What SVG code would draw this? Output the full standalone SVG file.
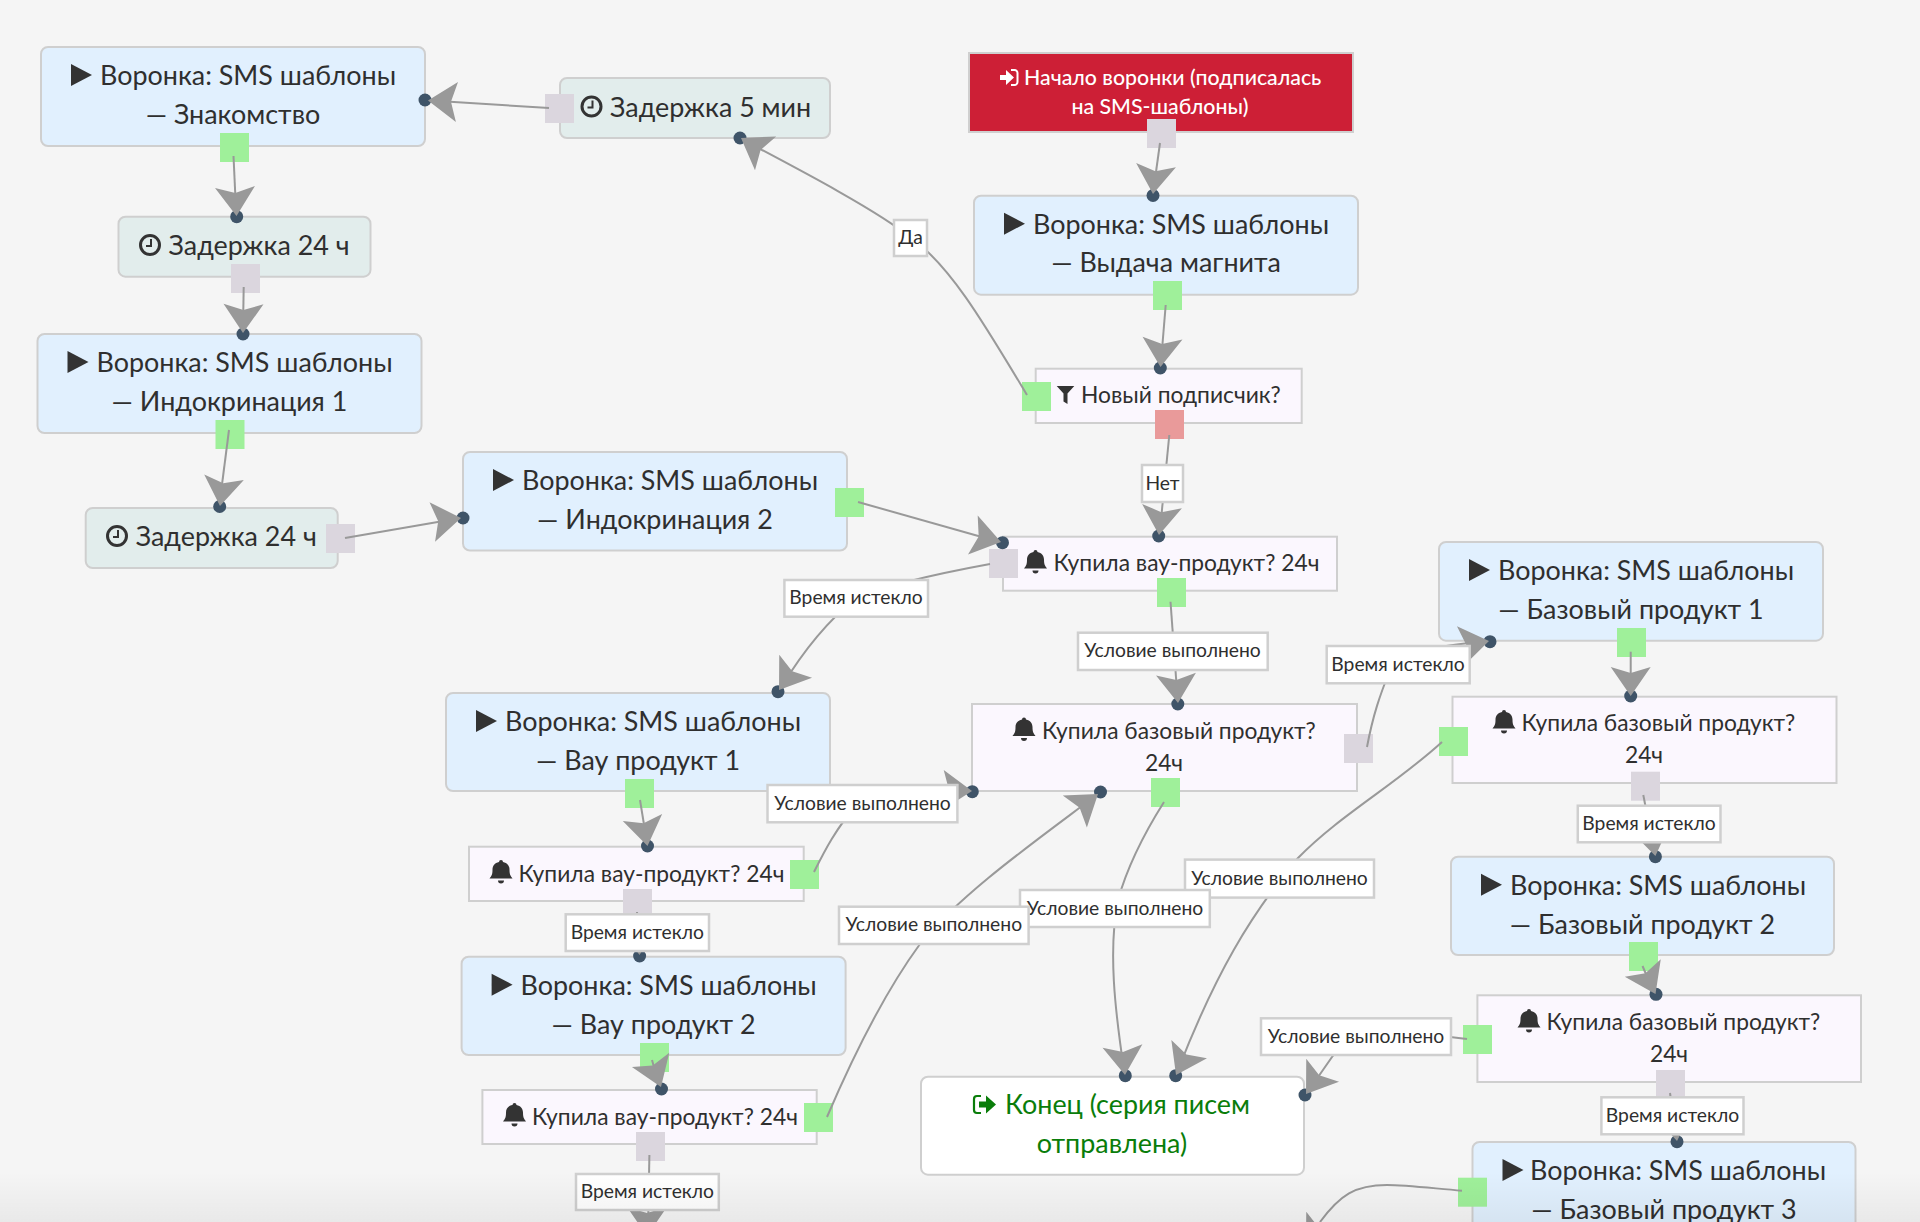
<svg xmlns="http://www.w3.org/2000/svg" width="1920" height="1222" viewBox="0 0 1920 1222">
<style>
text{font-family:"Lato","Open Sans","Noto Sans",sans-serif;fill:#2f2f2f}
.f{font-size:26.9px}.q{font-size:22.8px}.s{font-size:21.3px;font-weight:500;fill:#fff}.e{font-size:26.9px;fill:#0a7d0a}
.l{font-size:19.3px;text-anchor:middle}.m{text-anchor:middle}
.bl{fill:#e1f0fe;stroke:#cfcfcf;stroke-width:2}.de{fill:#e2edec;stroke:#cfcfcf;stroke-width:2}
.qu{fill:#fbf7fe;stroke:#cfcfcf;stroke-width:2}.en{fill:#fff;stroke:#cfcfcf;stroke-width:2}.st{fill:#cd1f36;stroke:#cfcfcf;stroke-width:2}
.g{fill:#9ff09a}.y{fill:#dbd6de}.r{fill:#e99a9a}.d{fill:#3f5468}
.c{fill:none;stroke:#999;stroke-width:2}
.lb{fill:#fff;stroke:#cfcfcf;stroke-width:2.5}
</style>
<defs>
<polygon id="arrow" points="0,0 -29,-20 -23,0 -29,20" fill="#999"/>
<polygon id="play" points="0,-11 21,0 0,11" fill="#333"/>
<g id="clock"><circle r="9.500" fill="none" stroke="#333" stroke-width="3"/><path d="M1,-6V1H-4" fill="none" stroke="#333" stroke-width="2"/></g>
<path id="bell" fill="#333" d="M0,-12a2,2 0 0 1 2,2c4.300,.8 6.500,3.800 6.500,7.500 0,5 1,6.500 3,9H-11.500c2,-2.500 3,-4 3,-9 0,-3.700 2.200,-6.700 6.500,-7.500a2,2 0 0 1 2,-2zM-3,8.500a3,3 0 0 0 6,0z"/>
<linearGradient id="fade" x1="0" y1="0" x2="0" y2="1"><stop offset="0" stop-color="#000" stop-opacity="0"/><stop offset="1" stop-color="#000" stop-opacity=".05"/></linearGradient>
</defs>
<rect width="1920" height="1222" fill="#f5f5f5"/>

<g id="n-znakomstvo"><rect class="bl" x="41" y="47" width="384" height="99" rx="7"/><use href="#play" x="71" y="75"/><text class="f" x="100" y="85">Воронка: SMS шаблоны</text><text class="f m" x="233" y="124">— Знакомство</text><rect class="g" x="220" y="133" width="29" height="29"/><circle class="d" cx="425" cy="100" r="6.500"/></g>
<g id="n-delay5"><rect class="de" x="560" y="78" width="270" height="60" rx="7"/><use href="#clock" x="591.500" y="106.500"/><text class="f" x="610" y="116.500">Задержка 5 мин</text><rect class="y" x="545" y="94" width="29" height="29"/><circle class="d" cx="740" cy="138" r="6.500"/></g>
<g id="n-delay24a"><rect class="de" x="118.500" y="216.700" width="252" height="60" rx="7"/><use href="#clock" x="150" y="245"/><text class="f" x="168.500" y="254.800">Задержка 24 ч</text><rect class="y" x="231" y="264" width="29" height="29"/><circle class="d" cx="236.700" cy="216.700" r="6.500"/></g>
<g id="n-indo1"><rect class="bl" x="37.500" y="334" width="384" height="99" rx="7"/><use href="#play" x="67.500" y="362"/><text class="f" x="96.500" y="372">Воронка: SMS шаблоны</text><text class="f m" x="229.500" y="411">— Индокринация 1</text><rect class="g" x="215.500" y="420" width="29" height="29"/><circle class="d" cx="243" cy="334" r="6.500"/></g>
<g id="n-delay24b"><rect class="de" x="85.700" y="508" width="252" height="60" rx="7"/><use href="#clock" x="117" y="536"/><text class="f" x="135.700" y="546">Задержка 24 ч</text><rect class="y" x="326" y="524" width="29" height="29"/><circle class="d" cx="219.700" cy="506.500" r="6.500"/></g>
<g id="n-indo2"><rect class="bl" x="463" y="452" width="384" height="98.500" rx="7"/><use href="#play" x="493" y="480"/><text class="f" x="522" y="490">Воронка: SMS шаблоны</text><text class="f m" x="655" y="529">— Индокринация 2</text><rect class="g" x="835" y="488" width="29" height="29"/><circle class="d" cx="463" cy="518" r="6.500"/></g>
<g id="n-start"><rect class="st" x="969" y="53" width="384" height="79"/><path fill="#fff" d="M1000,75h6v-5l8,7.500-8,7.500v-5h-6z"/><path fill="none" stroke="#fff" stroke-width="2" d="M1011,70h3.500a3,3 0 0 1 3,3v9a3,3 0 0 1-3,3h-3.500"/><text class="s" x="1024" y="85">Начало воронки (подписалась</text><text class="s m" x="1160" y="114">на SMS-шаблоны)</text><rect class="y" x="1147" y="119" width="29" height="29"/></g>
<g id="n-magnet"><rect class="bl" x="974" y="195.700" width="384" height="99" rx="7"/><use href="#play" x="1004" y="223.700"/><text class="f" x="1033" y="233.500">Воронка: SMS шаблоны</text><text class="f m" x="1166" y="272">— Выдача магнита</text><rect class="g" x="1153" y="281" width="29" height="29"/><circle class="d" cx="1153" cy="195.500" r="6.500"/></g>
<g id="n-filter"><rect class="qu" x="1035.700" y="368.700" width="266" height="54.300"/><path fill="#333" d="M1056.700,386h17.600l-6.800,7.500v10.500l-4,-2.500v-8z"/><text class="q" x="1081" y="403">Новый подписчик?</text><rect class="g" x="1022" y="382" width="29" height="29"/><rect class="r" x="1155" y="410" width="29" height="29"/><circle class="d" cx="1160.300" cy="368" r="6.500"/></g>
<g id="n-wow1q"><rect class="qu" x="1003" y="536.700" width="334" height="54"/><use href="#bell" x="1035.500" y="562"/><text class="q" x="1053.500" y="571">Купила вау-продукт? 24ч</text><rect class="y" x="989" y="549" width="29" height="29"/><rect class="g" x="1157" y="578" width="29" height="29"/><circle class="d" cx="1002.500" cy="542.700" r="6.500"/><circle class="d" cx="1158.700" cy="536" r="6.500"/></g>
<g id="n-baseq"><rect class="qu" x="972" y="704" width="385" height="87"/><use href="#bell" x="1024" y="729.500"/><text class="q" x="1042" y="738.500">Купила базовый продукт?</text><text class="q m" x="1164" y="770.700">24ч</text><rect class="y" x="1344" y="734" width="29" height="29"/><rect class="g" x="1151" y="778" width="29" height="29"/><circle class="d" cx="1177.800" cy="704" r="6.500"/><circle class="d" cx="972.300" cy="791.700" r="6.500"/><circle class="d" cx="1100.500" cy="792" r="6.500"/></g>
<g id="n-wow1"><rect class="bl" x="446" y="693" width="384" height="98" rx="7"/><use href="#play" x="476" y="721"/><text class="f" x="505" y="731">Воронка: SMS шаблоны</text><text class="f m" x="638" y="770">— Вау продукт 1</text><rect class="g" x="625" y="779" width="29" height="29"/><circle class="d" cx="778" cy="691.700" r="6.500"/></g>
<g id="n-wow2q"><rect class="qu" x="469" y="846.700" width="334.700" height="54.300"/><use href="#bell" x="501" y="872"/><text class="q" x="518.500" y="881.500">Купила вау-продукт? 24ч</text><rect class="g" x="790" y="860" width="29" height="29"/><rect class="y" x="623" y="889" width="29" height="29"/><circle class="d" cx="647.500" cy="846" r="6.500"/></g>
<g id="n-wow2"><rect class="bl" x="461.600" y="956.700" width="384" height="98.300" rx="7"/><use href="#play" x="491.600" y="984.700"/><text class="f" x="520.600" y="994.700">Воронка: SMS шаблоны</text><text class="f m" x="653.600" y="1033.700">— Вау продукт 2</text><rect class="g" x="640" y="1043" width="29" height="29"/><circle class="d" cx="639.600" cy="956" r="6.500"/></g>
<g id="n-wow3q"><rect class="qu" x="482.400" y="1090" width="334.300" height="54"/><use href="#bell" x="514.500" y="1115"/><text class="q" x="532" y="1124.500">Купила вау-продукт? 24ч</text><rect class="g" x="804" y="1103" width="29" height="29"/><rect class="y" x="636" y="1132" width="29" height="29"/><circle class="d" cx="661.500" cy="1089" r="6.500"/></g>
<g id="n-end"><rect class="en" x="921" y="1076.700" width="383" height="98" rx="7"/><path fill="#0a7d0a" d="M979,1101.500h7v-6l10,9-10,9v-6h-7z"/><path fill="none" stroke="#0a7d0a" stroke-width="2.200" d="M981,1096h-4a3,3 0 0 0-3,3v11a3,3 0 0 0 3,3h4"/><text class="e" x="1005" y="1114">Конец (серия писем</text><text class="e m" x="1112" y="1153">отправлена)</text><circle class="d" cx="1125.300" cy="1075.700" r="6.500"/><circle class="d" cx="1175.700" cy="1075.700" r="6.500"/><circle class="d" cx="1305" cy="1095" r="6.500"/></g>
<g id="n-base1"><rect class="bl" x="1439" y="542" width="384" height="98.700" rx="7"/><use href="#play" x="1469" y="570"/><text class="f" x="1498" y="580">Воронка: SMS шаблоны</text><text class="f m" x="1631" y="619">— Базовый продукт 1</text><rect class="g" x="1617" y="628" width="29" height="29"/><circle class="d" cx="1490" cy="641.700" r="6.500"/></g>
<g id="n-base1q"><rect class="qu" x="1452.500" y="696.700" width="384" height="86.300"/><use href="#bell" x="1504" y="722"/><text class="q" x="1521.500" y="731">Купила базовый продукт?</text><text class="q m" x="1644" y="763">24ч</text><rect class="g" x="1439" y="727" width="29" height="29"/><rect class="y" x="1631" y="771.700" width="29" height="29"/><circle class="d" cx="1630.700" cy="696" r="6.500"/></g>
<g id="n-base2"><rect class="bl" x="1451" y="856.700" width="383" height="98.300" rx="7"/><use href="#play" x="1481" y="884.700"/><text class="f" x="1510" y="894.700">Воронка: SMS шаблоны</text><text class="f m" x="1642.500" y="933.700">— Базовый продукт 2</text><rect class="g" x="1629" y="942" width="29" height="29"/><circle class="d" cx="1655.400" cy="856.700" r="6.500"/></g>
<g id="n-base2q"><rect class="qu" x="1477.400" y="995.300" width="383.600" height="86.700"/><use href="#bell" x="1529" y="1021"/><text class="q" x="1546.500" y="1030">Купила базовый продукт?</text><text class="q m" x="1669" y="1062">24ч</text><rect class="g" x="1463" y="1025" width="29" height="29"/><rect class="y" x="1656" y="1070" width="29" height="29"/><circle class="d" cx="1656" cy="994.300" r="6.500"/></g>
<g id="n-base3"><rect class="bl" x="1472.500" y="1142" width="383" height="99" rx="7"/><use href="#play" x="1502.500" y="1170"/><text class="f" x="1530" y="1180">Воронка: SMS шаблоны</text><text class="f m" x="1664" y="1219">— Базовый продукт 3</text><rect class="g" x="1458" y="1177.700" width="29" height="29"/><circle class="d" cx="1677" cy="1141.700" r="6.500"/></g>

<g id="connectors">
<path class="c" d="M549,108L430,100.600"/><use href="#arrow" transform="translate(428,100.500) rotate(183)"/>
<path class="c" d="M233.500,156L236,210"/><use href="#arrow" transform="translate(236.500,216) rotate(87)"/>
<path class="c" d="M243.700,287L243,328"/><use href="#arrow" transform="translate(243,333) rotate(91)"/>
<path class="c" d="M229,430L220,500"/><use href="#arrow" transform="translate(220,506) rotate(98)"/>
<path class="c" d="M345,538L458,518.500"/><use href="#arrow" transform="translate(461,518) rotate(-8)"/>
<path class="c" d="M858,502L996,541"/><use href="#arrow" transform="translate(1001,542) rotate(14)"/>
<path class="c" d="M1160,143L1153.500,190"/><use href="#arrow" transform="translate(1153,194) rotate(96)"/>
<path class="c" d="M1165.700,305L1161,362"/><use href="#arrow" transform="translate(1160.500,367) rotate(94)"/>
<path class="c" d="M1027,395C985,325 950,265 911,238C880,212 800,170 745,141"/><use href="#arrow" transform="translate(741,138) rotate(212)"/>
<path class="c" d="M1169.300,435L1160,530"/><use href="#arrow" transform="translate(1159,535) rotate(96)"/>
<path class="c" d="M990,564C930,575 880,588 856,598C835,615 810,640 782,686"/><use href="#arrow" transform="translate(779,690) rotate(125)"/>
<path class="c" d="M1170.500,601.700L1177.500,698"/><use href="#arrow" transform="translate(1178,703) rotate(86)"/>
<path class="c" d="M640,800L646.500,840"/><use href="#arrow" transform="translate(647.500,846) rotate(80)"/>
<path class="c" d="M814,872C825,850 835,830 860,800C900,780 940,785 968,791"/><use href="#arrow" transform="translate(972,791) rotate(2)"/>
<path class="c" d="M637,912L639.500,950"/><use href="#arrow" transform="translate(639.500,955) rotate(88)"/>
<path class="c" d="M652,1060L658,1082"/><use href="#arrow" transform="translate(661,1087) rotate(69)"/>
<path class="c" d="M827,1117C860,1040 890,985 920,944C960,895 1030,845 1090,800"/><use href="#arrow" transform="translate(1098,794) rotate(-37)"/>
<path class="c" d="M1164,802C1140,840 1125,875 1118,900C1108,950 1115,1010 1124,1070"/><use href="#arrow" transform="translate(1125,1075) rotate(85)"/>
<path class="c" d="M1367,747C1373,715 1380,695 1390,670C1400,650 1450,645 1486,641"/><use href="#arrow" transform="translate(1489,641) rotate(-10)"/>
<path class="c" d="M1630.700,651.700V690"/><use href="#arrow" transform="translate(1630.700,696) rotate(90)"/>
<path class="c" d="M1643.300,795L1654,850"/><use href="#arrow" transform="translate(1655.400,856) rotate(80)"/>
<path class="c" d="M1442,742C1395,785 1340,815 1298,858C1250,915 1215,975 1178,1070"/><use href="#arrow" transform="translate(1176,1075) rotate(117)"/>
<path class="c" d="M1642.500,966L1652,988"/><use href="#arrow" transform="translate(1655.500,994) rotate(64)"/>
<path class="c" d="M1467,1039C1400,1030 1350,1030 1332,1057L1309,1090"/><use href="#arrow" transform="translate(1306,1094) rotate(125)"/>
<path class="c" d="M1670,1093L1676,1136"/><use href="#arrow" transform="translate(1677,1141) rotate(82)"/>
<path class="c" d="M1462,1190.700C1430,1188 1405,1185 1387,1185C1355,1185 1340,1195 1320,1222"/><use href="#arrow" transform="translate(1306,1247) rotate(125)"/>
<path class="c" d="M649.400,1155L648,1230"/><use href="#arrow" transform="translate(647,1236) rotate(90)"/>
</g>

<g id="labels">
<rect class="lb" x="894" y="220" width="33" height="36"/><text class="l" x="910.500" y="244">Да</text>
<rect class="lb" x="1142" y="465" width="41" height="37"/><text class="l" x="1162.500" y="489.500">Нет</text>
<rect class="lb" x="784.400" y="580" width="143.600" height="36.700"/><text class="l" x="856" y="604">Время истекло</text>
<rect class="lb" x="1078" y="632.700" width="189.700" height="37.300"/><text class="l" x="1172.500" y="657">Условие выполнено</text>
<rect class="lb" x="1326.700" y="646" width="143" height="37.300"/><text class="l" x="1398" y="670.500">Время истекло</text>
<rect class="lb" x="767.500" y="785" width="189.900" height="37.300"/><text class="l" x="862.500" y="809.500">Условие выполнено</text>
<rect class="lb" x="1577.800" y="805.700" width="142.700" height="36.600"/><text class="l" x="1649" y="830">Время истекло</text>
<rect class="lb" x="1185" y="859.600" width="189" height="38"/><text class="l" x="1279.500" y="884.500">Условие выполнено</text>
<rect class="lb" x="1020" y="890" width="189.800" height="37"/><text class="l" x="1115" y="914.500">Условие выполнено</text>
<rect class="lb" x="565.700" y="914.300" width="143.300" height="36.700"/><text class="l" x="637.300" y="938.500">Время истекло</text>
<rect class="lb" x="839" y="906.700" width="189.600" height="37.300"/><text class="l" x="933.800" y="931">Условие выполнено</text>
<rect class="lb" x="1261" y="1018.300" width="190" height="36.700"/><text class="l" x="1356" y="1043">Условие выполнено</text>
<rect class="lb" x="1601.400" y="1097.300" width="142.100" height="37"/><text class="l" x="1672.500" y="1122">Время истекло</text>
<rect class="lb" x="576" y="1174" width="142.800" height="36"/><text class="l" x="647.400" y="1198">Время истекло</text>
</g>
<rect y="1172" width="1920" height="50" fill="url(#fade)"/>
</svg>
